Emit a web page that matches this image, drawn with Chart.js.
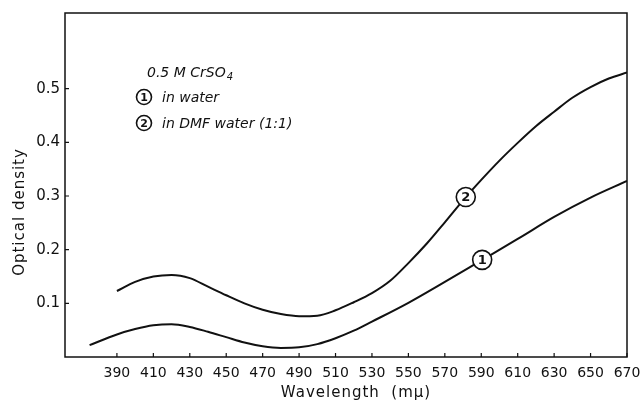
<!DOCTYPE html>
<html>
<head>
<meta charset="utf-8">
<style>
  html, body { margin: 0; padding: 0; background: #fff; }
  #wrap { width: 642px; height: 403px; }
</style>
</head>
<body>
<div id="wrap"><canvas id="odChart" width="642" height="403"></canvas></div>
<script src="https://cdn.jsdelivr.net/npm/chart.js"></script>
<script>
// curve 1: 0.5 M CrSO4 in water
const waterWl = [375, 390, 400, 410, 420, 430, 440, 450, 460, 470, 480, 490, 500, 510, 520, 530, 550, 570, 590, 610, 630, 650, 670];
const waterOD = [0.022, 0.042, 0.052, 0.059, 0.061, 0.056, 0.047, 0.037, 0.027, 0.020, 0.017, 0.018, 0.024, 0.035, 0.049, 0.066, 0.101, 0.140, 0.180, 0.220, 0.261, 0.297, 0.328];
// curve 2: in DMF water (1:1)
const dmfWl = [390, 400, 410, 420, 430, 440, 450, 460, 470, 480, 490, 500, 510, 520, 530, 540, 550, 560, 570, 580, 590, 600, 610, 620, 630, 640, 650, 660, 670];
const dmfOD = [0.123, 0.140, 0.150, 0.153, 0.147, 0.131, 0.115, 0.100, 0.088, 0.080, 0.076, 0.077, 0.087, 0.102, 0.119, 0.142, 0.175, 0.211, 0.251, 0.292, 0.330, 0.366, 0.399, 0.430, 0.457, 0.483, 0.503, 0.519, 0.530];

const xTicks = [390, 410, 430, 450, 470, 490, 510, 530, 550, 570, 590, 610, 630, 650, 670];
const yTicks = [0.1, 0.2, 0.3, 0.4, 0.5];

// curve markers (circled numbers on the lines)
const curveMarks = [
  { label: '1', x: 590.5, y: 0.181 },
  { label: '2', x: 581.5, y: 0.298 }
];

const toPts = (xs, ys) => xs.map((x, i) => ({ x: x, y: ys[i] }));

const ink = '#111';
const font = '"DejaVu Sans", sans-serif';

function circled(ctx, x, y, r, txt, size) {
  ctx.save();
  ctx.beginPath();
  ctx.arc(x, y, r, 0, Math.PI * 2);
  ctx.fillStyle = '#fff';
  ctx.fill();
  ctx.lineWidth = 1.6;
  ctx.strokeStyle = ink;
  ctx.stroke();
  ctx.fillStyle = ink;
  ctx.font = 'bold ' + size + 'px ' + font;
  ctx.textAlign = 'center';
  ctx.textBaseline = 'middle';
  ctx.fillText(txt, x, y + 1);
  ctx.restore();
}

const framePlugin = {
  id: 'frame',
  afterDraw(chart) {
    const ctx = chart.ctx;
    const a = chart.chartArea;
    const xs = chart.scales.x, ys = chart.scales.y;
    ctx.save();
    ctx.strokeStyle = ink;
    ctx.lineWidth = 1.5;
    ctx.strokeRect(a.left, a.top, a.right - a.left, a.bottom - a.top);
    // inward tick marks
    ctx.lineWidth = 1.2;
    ctx.beginPath();
    xTicks.forEach(v => {
      const px = xs.getPixelForValue(v);
      ctx.moveTo(px, a.bottom);
      ctx.lineTo(px, a.bottom - 4);
    });
    yTicks.forEach(v => {
      const py = ys.getPixelForValue(v);
      ctx.moveTo(a.left, py);
      ctx.lineTo(a.left + 4, py);
    });
    ctx.stroke();

    // axis titles
    ctx.fillStyle = ink;
    ctx.textAlign = 'center';
    ctx.textBaseline = 'middle';
    ctx.font = '15px ' + font;
    ctx.letterSpacing = '1px';
    ctx.fillText('Wavelength  (mμ)', 356, 393);
    ctx.save();
    ctx.translate(20, 212);
    ctx.rotate(-Math.PI / 2);
    ctx.fillText('Optical density', 0, 0);
    ctx.restore();
    ctx.letterSpacing = '0px';

    // key
    ctx.textAlign = 'left';
    ctx.textBaseline = 'alphabetic';
    ctx.font = 'italic 14px ' + font;
    ctx.fillText('0.5 M CrSO', 147, 77);
    const w = ctx.measureText('0.5 M CrSO').width;
    ctx.font = 'italic 10px ' + font;
    ctx.fillText('4', 147 + w + 1, 80);
    ctx.font = 'italic 14px ' + font;
    ctx.fillText('in water', 162, 102);
    ctx.fillText('in DMF water (1:1)', 162, 128);
    ctx.restore();
    circled(ctx, 144, 97, 7.5, '1', 11);
    circled(ctx, 144, 123, 7.5, '2', 11);

    curveMarks.forEach(m => {
      circled(ctx, xs.getPixelForValue(m.x), ys.getPixelForValue(m.y), 9.5, m.label, 13);
    });
  }
};

new Chart(document.getElementById('odChart'), {
  type: 'line',
  data: {
    datasets: [
      { label: 'in water', data: toPts(waterWl, waterOD) },
      { label: 'in DMF water (1:1)', data: toPts(dmfWl, dmfOD) }
    ]
  },
  options: {
    responsive: false,
    animation: false,
    events: [],
    layout: { padding: { top: 13, right: 15, left: 0, bottom: 0 } },
    elements: {
      line: { borderColor: ink, borderWidth: 2, cubicInterpolationMode: 'monotone', fill: false },
      point: { radius: 0 }
    },
    plugins: { legend: { display: false }, tooltip: { enabled: false } },
    scales: {
      x: {
        type: 'linear',
        min: 361.5,
        max: 670,
        afterBuildTicks: s => { s.ticks = xTicks.map(v => ({ value: v })); },
        afterFit: s => { s.height = 46; s.paddingLeft = 0; s.paddingRight = 0; },
        grid: { display: false, drawTicks: false },
        border: { display: false },
        ticks: { autoSkip: false, maxRotation: 0, padding: 8, color: ink, font: { family: font, size: 14 } }
      },
      y: {
        min: 0,
        max: 0.641,
        afterBuildTicks: s => { s.ticks = yTicks.map(v => ({ value: v })); },
        afterFit: s => { s.width = 65; s.paddingTop = 0; s.paddingBottom = 0; },
        grid: { display: false, drawTicks: false },
        border: { display: false },
        ticks: { padding: 5, color: ink, font: { family: font, size: 15 }, callback: v => v.toFixed(1) }
      }
    }
  },
  plugins: [framePlugin]
});
</script>
</body>
</html>
